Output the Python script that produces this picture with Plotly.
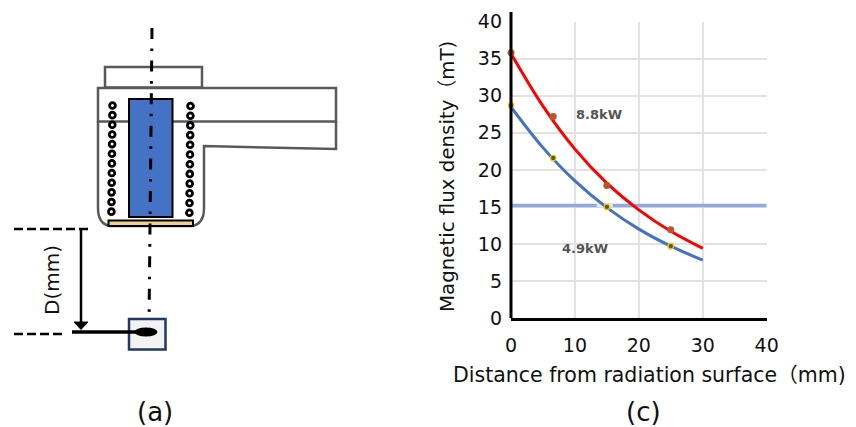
import plotly.graph_objects as go

W, H = 856, 427
FONT = "DejaVu Sans, Noto Sans CJK JP"

# Chart (c) values
x_ticks = [0, 10, 20, 30, 40]
y_ticks = [0, 5, 10, 15, 20, 25, 30, 35, 40]
curve_x = [0, 5, 10, 15, 20, 25, 30]
curve_88 = [35.7, 28.6, 22.8, 18.2, 14.6, 11.7, 9.4]
curve_49 = [28.5, 23.0, 18.5, 14.9, 12.0, 9.7, 7.8]
meas_x = [0, 6.6, 15, 25]
meas_88 = [35.8, 27.2, 17.9, 11.9]
meas_49 = [28.7, 21.6, 15.0, 9.7]
limit_x = [-1.3, 40]
limit_y = [15.2, 15.2]
limit_gap_x = [13.4, 15.9]
axis_title_x = "Distance from radiation surface（mm)"
axis_title_y = "Magnetic flux density（mT)"

PX0, PX1, PY0, PY1 = 511, 766.7, 318, 21.7


def X(px):
    return px / W


def Y(py):
    return 1 - py / H


def rect(x0, y0, x1, y1, line="#595959", lw=2.5, fill=None, layer="above"):
    return dict(type="rect", xref="paper", yref="paper", x0=X(x0), x1=X(x1), y0=Y(y0), y1=Y(y1),
                line=dict(color=line, width=lw), fillcolor=fill or "rgba(0,0,0,0)", layer=layer)


def seg(x0, y0, x1, y1, color="black", lw=2.5, dash="solid", layer="above"):
    return dict(type="line", xref="paper", yref="paper", x0=X(x0), x1=X(x1), y0=Y(y0), y1=Y(y1),
                line=dict(color=color, width=lw, dash=dash), layer=layer)


def ellipse(cx, cy, rx, ry, line="black", lw=2, fill="white"):
    return dict(type="circle", xref="paper", yref="paper", x0=X(cx - rx), x1=X(cx + rx),
                y0=Y(cy + ry), y1=Y(cy - ry), line=dict(color=line, width=lw), fillcolor=fill, layer="above")


def path(points, closed=False, line="#595959", lw=2.5, fill=None, curved=None):
    d = curved or ("M" + " L".join(f"{X(a):.5f},{Y(b):.5f}" for a, b in points))
    if closed:
        d += " Z"
    return dict(type="path", xref="paper", yref="paper", path=d,
                line=dict(color=line, width=lw), fillcolor=fill or "rgba(0,0,0,0)", layer="above")


shapes = []
shapes.append(rect(566, 97, 645, 128, line="rgba(0,0,0,0)", lw=0, fill="white", layer="below"))
shapes.append(rect(552, 240, 631, 262, line="rgba(0,0,0,0)", lw=0, fill="white", layer="below"))
shapes.append(seg(511, 12, 511, 318, lw=3))

# Schematic (a)
shapes.append(rect(105, 67, 202, 87.5))
shapes.append(rect(98, 88, 336, 121.5))
shapes.append(path([], curved=(
    f"M{X(98)},{Y(121.5)} L{X(98)},{Y(208)} Q{X(98)},{Y(224)} {X(110)},{Y(226)} "
    f"L{X(192)},{Y(226)} Q{X(204)},{Y(224)} {X(204)},{Y(208)} L{X(204)},{Y(146)} "
    f"L{X(336)},{Y(149)} L{X(336)},{Y(121.5)}")))
shapes.append(rect(129, 99, 172.5, 217, line="black", lw=2, fill="#4472C4"))
shapes.append(rect(108.5, 220.5, 193, 226, line="black", lw=2, fill="#EFD08F"))
for i in range(12):
    shapes.append(ellipse(112.5 - i * 0.1, 105.5 + i * 9.65, 2.9, 2.9, lw=2.8))
    shapes.append(ellipse(190.5 - i * 0.1, 106 + i * 9.7, 2.9, 2.9, lw=2.8))
shapes.append(seg(152, 28, 149, 325, lw=3, dash="11px,9.5px,2.6px,9.5px"))
shapes.append(rect(129, 319, 165.5, 349.5, line="#1F3864", lw=2.5, fill="#F2F2F2"))
shapes.append(seg(72, 332, 140, 332, lw=3.5))
shapes.append(ellipse(146, 332, 11.5, 4.5, lw=0, fill="black"))
shapes.append(seg(81, 230, 81, 324, lw=2.5))
shapes.append(path([(74, 322), (88, 322), (81, 329.5)], closed=True, line="black", lw=1, fill="black"))
shapes.append(seg(14, 229, 88, 229, lw=2.6, dash="9px,4px"))
shapes.append(seg(14, 334, 63, 334, lw=2.6, dash="9px,4px"))

fig = go.Figure()
fig.add_trace(go.Scatter(x=limit_x, y=limit_y, mode="lines", line=dict(color="#8FAADC", width=3.5),
                         cliponaxis=False, showlegend=False, hoverinfo="skip"))
fig.add_trace(go.Scatter(x=limit_gap_x, y=limit_y, mode="lines", line=dict(color="#E6ECF6", width=3.5),
                         showlegend=False, hoverinfo="skip"))
fig.add_trace(go.Scatter(x=curve_x, y=curve_49, mode="lines", line=dict(color="#4472C4", width=3, shape="spline"),
                         showlegend=False, name="4.9kW"))
fig.add_trace(go.Scatter(x=curve_x, y=curve_88, mode="lines", line=dict(color="#FF0000", width=3, shape="spline"),
                         showlegend=False, name="8.8kW"))
fig.add_trace(go.Scatter(x=meas_x, y=meas_49, mode="markers", cliponaxis=False,
                         marker=dict(color="#4F5A3A", size=5.5, line=dict(color="#FFC000", width=1.2)),
                         showlegend=False))
fig.add_trace(go.Scatter(x=meas_x, y=meas_88, mode="markers", cliponaxis=False,
                         marker=dict(color="#B5562B", size=7), showlegend=False))

annotations = [
    dict(x=599, y=114, text="<b>8.8kW</b>", size=13, color="#555555", angle=0),
    dict(x=585, y=248, text="<b>4.9kW</b>", size=13, color="#555555", angle=0),
    dict(x=52, y=280, text="D(mm)", size=20, color="#111111", angle=-90),
    dict(x=155, y=412, text="(a)", size=26, color="#111111", angle=0),
    dict(x=643, y=412, text="(c)", size=26, color="#111111", angle=0),
    dict(x=649.5, y=375, text=axis_title_x, size=20.5, color="#111111", angle=0),
    dict(x=447, y=177, text=axis_title_y, size=19.8, color="#111111", angle=-90),
]
fig.update_layout(
    width=W, height=H, margin=dict(l=0, r=0, t=0, b=0), paper_bgcolor="white", plot_bgcolor="white",
    font=dict(family=FONT, color="#111111"), showlegend=False, shapes=shapes,
    annotations=[dict(xref="paper", yref="paper", x=X(a["x"]), y=Y(a["y"]), text=a["text"], showarrow=False,
                      textangle=a["angle"], font=dict(family=FONT, size=a["size"], color=a["color"]),
                      xanchor="center", yanchor="middle") for a in annotations],
    xaxis=dict(domain=[X(PX0), X(PX1)], range=[0, 40], tickvals=x_ticks, showgrid=True, gridcolor="#E2E2E2",
               gridwidth=1.5, zeroline=False, showline=True, linecolor="black", linewidth=3,
               tickfont=dict(size=19), ticklabelstandoff=8, automargin=False),
    yaxis=dict(domain=[Y(PY0), Y(PY1)], range=[0, 40], tickvals=y_ticks, showgrid=True, gridcolor="#E2E2E2",
               gridwidth=1.5, zeroline=False, showline=False, tickfont=dict(size=19), ticklabelstandoff=8,
               automargin=False),
)
fig.write_html("out.html", config=dict(displayModeBar=False),
               post_script="document.body.style.margin='0';document.documentElement.style.overflow='hidden';")
